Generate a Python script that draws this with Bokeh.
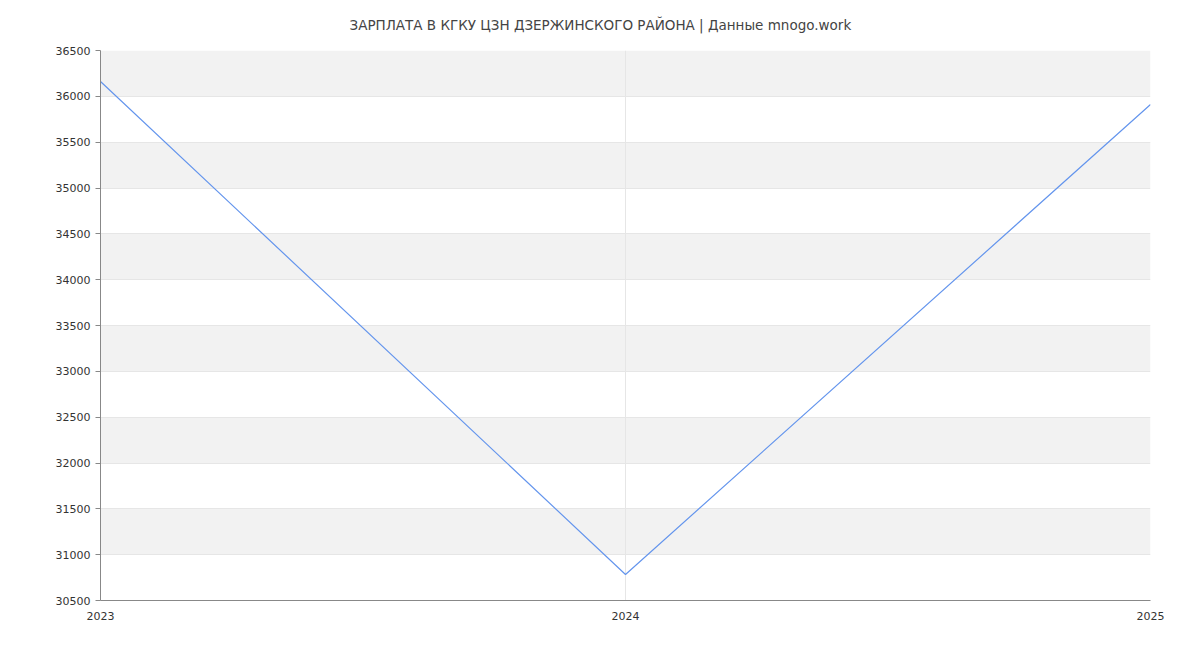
from bokeh.plotting import figure
from bokeh.models import FixedTicker, Range1d
from bokeh.embed import file_html
from bokeh.resources import INLINE

years = [2023, 2024, 2025]
salary = [36162, 30784, 35911]
y_ticks = list(range(30500, 37000, 500))
title_text = "ЗАРПЛАТА В КГКУ ЦЗН ДЗЕРЖИНСКОГО РАЙОНА | Данные mnogo.work"

p = figure(width=1200, height=650, output_backend="svg", toolbar_location=None,
           x_range=Range1d(2023, 2025), y_range=Range1d(30500, 36500),
           min_border_left=100, min_border_right=50, min_border_top=50, min_border_bottom=50)

p.title.text = title_text
p.title.align = "left"
p.title.offset = 249
p.title.vertical_align = "top"
p.title.standoff = 32
p.title.text_font = "DejaVu Sans"
p.title.text_font_size = "13.5px"
p.title.text_font_style = "normal"
p.title.text_color = "#444444"

p.line(years, salary, line_color="#6495ed", line_width=1.2)

p.xaxis.ticker = FixedTicker(ticks=years)
p.yaxis.ticker = FixedTicker(ticks=y_ticks)
for ax in (p.xaxis[0], p.yaxis[0]):
    ax.axis_line_color = "#888888"
    ax.major_tick_line_color = "#888888"
    ax.minor_tick_line_color = None
    ax.major_label_text_font = "DejaVu Sans"
    ax.major_label_text_font_size = "11px"
    ax.major_label_text_color = "#333333"
    ax.major_tick_in = 0
p.yaxis.major_tick_out = 5
p.xaxis.major_tick_out = 0
p.xaxis.major_label_standoff = 11

p.xgrid.grid_line_color = "#e6e6e6"
p.ygrid.grid_line_color = "#e6e6e6"
p.ygrid.band_fill_color = "#f2f2f2"
p.ygrid.band_fill_alpha = 1.0
p.ygrid.level = "image"
p.outline_line_color = None
p.background_fill_color = "white"

open("out.html", "w").write(file_html(p, INLINE))
